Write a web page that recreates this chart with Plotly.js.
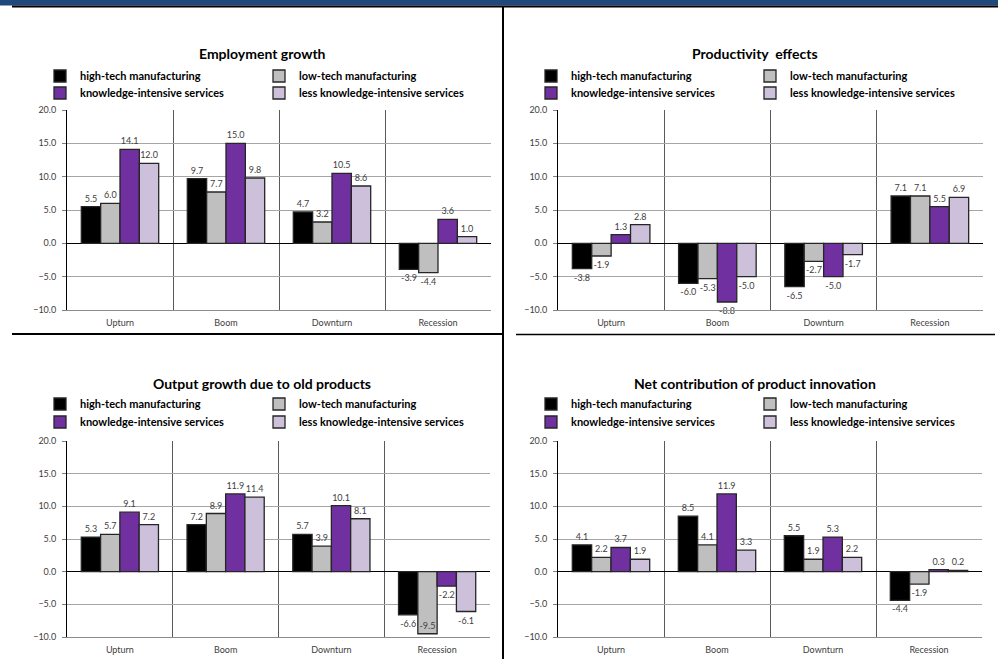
<!DOCTYPE html>
<html>
<head>
<meta charset="utf-8">
<script src="https://cdn.plot.ly/plotly-3.0.1.min.js"></script>
<style>html,body{margin:0;padding:0;background:#fff;}#chart{width:998px;height:659px;}</style>
</head>
<body>
<div id="chart"></div>
<script>
// ---- data ----
const categories = ['Upturn', 'Boom', 'Downturn', 'Recession'];
const seriesNames = ['high-tech manufacturing', 'low-tech manufacturing', 'knowledge-intensive services', 'less knowledge-intensive services'];
const panelTitles = ['Employment growth', 'Productivity  effects', 'Output growth due to old products', 'Net contribution of product innovation'];

const employmentHighTech = [5.5, 9.7, 4.7, -3.9];
const employmentLowTech = [6.0, 7.7, 3.2, -4.4];
const employmentKIS = [14.1, 15.0, 10.5, 3.6];
const employmentLKIS = [12.0, 9.8, 8.6, 1.0];

const productivityHighTech = [-3.8, -6.0, -6.5, 7.1];
const productivityLowTech = [-1.9, -5.3, -2.7, 7.1];
const productivityKIS = [1.3, -8.8, -5.0, 5.5];
const productivityLKIS = [2.8, -5.0, -1.7, 6.9];

const oldProductsHighTech = [5.3, 7.2, 5.7, -6.6];
const oldProductsLowTech = [5.7, 8.9, 3.9, -9.5];
const oldProductsKIS = [9.1, 11.9, 10.1, -2.2];
const oldProductsLKIS = [7.2, 11.4, 8.1, -6.1];

const netInnovHighTech = [4.1, 8.5, 5.5, -4.4];
const netInnovLowTech = [2.2, 4.1, 1.9, -1.9];
const netInnovKIS = [3.7, 11.9, 5.3, 0.3];
const netInnovLKIS = [1.9, 3.3, 2.2, 0.2];

const yTickVals = [-10, -5, 0, 5, 10, 15, 20];

// ---- styling ----
const W = 998, H = 659;
const FONT = 'Lato, "Open Sans", sans-serif';
const colors = ['#000000', '#bfbfbf', '#7030a0', '#ccc0da'];
const px = v => v / W;
const py = v => 1 - v / H;

const panels = [
  [employmentHighTech, employmentLowTech, employmentKIS, employmentLKIS],
  [productivityHighTech, productivityLowTech, productivityKIS, productivityLKIS],
  [oldProductsHighTech, oldProductsLowTech, oldProductsKIS, oldProductsLKIS],
  [netInnovHighTech, netInnovLowTech, netInnovKIS, netInnovLKIS]
];

// plot areas in pixels [x0, x1, yTop, yBottom]
const areas = [
  [67, 491, 110, 310],
  [558, 983, 110, 310],
  [67, 490, 441, 637],
  [558, 982, 441, 637]
];
const titlePos = [[262, 53], [755, 53], [262, 383], [755, 383]];
const legendRows = [[76, 93], [76, 93], [404, 422], [404, 422]];
const legendX = [40, 531, 40, 531];

const traces = [];
const layout = {
  width: W, height: H,
  margin: {l: 0, r: 0, t: 0, b: 0},
  paper_bgcolor: '#ffffff',
  plot_bgcolor: '#ffffff',
  barmode: 'group',
  bargap: 0.27,
  bargroupgap: 0,
  font: {family: FONT, size: 9, color: '#404040'},
  annotations: [],
  shapes: []
};

panels.forEach((vals, p) => {
  const n = p === 0 ? '' : String(p + 1);
  const xa = 'x' + n, ya = 'y' + n;
  const [x0, x1, yt, yb] = areas[p];
  layout['xaxis' + n] = {
    domain: [px(x0), px(x1)],
    anchor: ya,
    type: 'category',
    tickson: 'boundaries',
    showgrid: true,
    gridcolor: '#595959',
    gridwidth: 1,
    ticks: '',
    ticklabelstandoff: 4,
    showline: true,
    linecolor: '#8c8c8c',
    linewidth: 1,
    tickfont: {family: FONT, size: 9, color: '#404040'},
    fixedrange: true
  };
  layout['yaxis' + n] = {
    domain: [py(yb), py(yt)],
    anchor: xa,
    range: [-10, 20],
    tickvals: yTickVals,
    tickformat: '.1f',
    showgrid: true,
    gridcolor: '#a6a6a6',
    gridwidth: 1,
    zeroline: true,
    zerolinecolor: '#000000',
    zerolinewidth: 1.3,
    showline: true,
    linecolor: '#000000',
    linewidth: 1,
    ticks: 'outside',
    ticklen: 4,
    tickcolor: '#7f7f7f',
    ticklabelstandoff: 4,
    tickfont: {family: FONT, size: 9, color: '#404040'},
    fixedrange: true
  };
  const leg1 = 'legend' + (p === 0 ? '' : String(2 * p + 1));
  const leg2 = 'legend' + String(2 * p + 2);
  [leg1, leg2].forEach((lg, r) => {
    layout[lg] = {
      x: px(legendX[p]), xanchor: 'left',
      y: py(legendRows[p][r]), yanchor: 'middle',
      orientation: 'h',
      entrywidth: 174,
      entrywidthmode: 'pixels',
      itemwidth: 30,
      bgcolor: 'rgba(0,0,0,0)',
      font: {family: FONT, size: 11, color: '#000000'},
      traceorder: 'normal',
      itemclick: false, itemdoubleclick: false
    };
  });
  vals.forEach((v, s) => {
    traces.push({
      type: 'bar',
      x: categories,
      y: v,
      name: '<b>' + seriesNames[s] + '</b>',
      xaxis: xa, yaxis: ya,
      legend: s < 2 ? leg1 : leg2,
      marker: {color: colors[s], line: {color: '#262626', width: 1.3}},
      text: v.map(d => d.toFixed(1)),
      texttemplate: '%{text}',
      textposition: v.map(d => (d < -9 ? 'inside' : 'outside')),
      insidetextanchor: 'end',
      textangle: 0,
      textfont: {family: FONT, size: 9, color: '#404040'},
      outsidetextfont: {family: FONT, size: 9, color: '#404040'},
      insidetextfont: {family: FONT, size: 9, color: '#404040'},
      constraintext: 'none',
      cliponaxis: false,
      hoverinfo: 'skip'
    });
  });
  layout.annotations.push({
    xref: 'paper', yref: 'paper',
    x: px(titlePos[p][0]), y: py(titlePos[p][1]),
    xanchor: 'center', yanchor: 'middle',
    text: '<b>' + panelTitles[p] + '</b>',
    showarrow: false,
    font: {family: FONT, size: 14, color: '#000000'}
  });
});

// frame: banner and dividing lines
layout.shapes.push(
  {type: 'rect', xref: 'paper', yref: 'paper', x0: 0, x1: 1, y0: py(5.5), y1: 1, fillcolor: '#1f497d', line: {width: 0}, layer: 'above'},
  {type: 'line', xref: 'paper', yref: 'paper', x0: px(12), x1: 1, y0: py(6.5), y1: py(6.5), line: {color: '#000000', width: 2}},
  {type: 'line', xref: 'paper', yref: 'paper', x0: px(503), x1: px(503), y0: py(6), y1: 0, line: {color: '#000000', width: 2}},
  {type: 'line', xref: 'paper', yref: 'paper', x0: px(12), x1: px(503), y0: py(334), y1: py(334), line: {color: '#000000', width: 2}},
  {type: 'line', xref: 'paper', yref: 'paper', x0: px(516), x1: px(995), y0: py(334.5), y1: py(334.5), line: {color: '#000000', width: 1.5}}
);

Plotly.newPlot('chart', traces, layout, {staticPlot: true, displayModeBar: false});
</script>
</body>
</html>
